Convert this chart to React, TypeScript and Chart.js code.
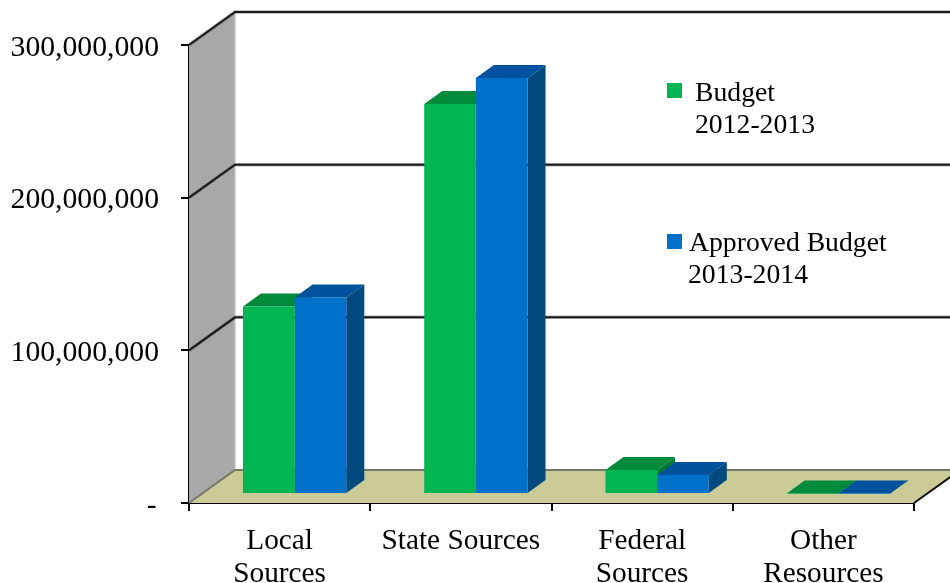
import React, { useEffect, useRef } from "react";
import { Chart, registerables } from "chart.js";

Chart.register(...registerables);

const categories = [["Local", "Sources"], ["State Sources"], ["Federal", "Sources"], ["Other", "Resources"]];
const budget = [122800000, 255400000, 15800000, 400000];
const approved = [128700000, 272500000, 12500000, 400000];
const legendBudget = ["Budget", "2012-2013"];
const legendApproved = ["Approved Budget", "2013-2014"];

const SERIF = "'Liberation Serif', serif";
const GREEN = "#00b552";
const BLUE = "#0070c8";
const faces = [
  { top: "#008a3c", side: "#007a35" },
  { top: "#00529c", side: "#004a80" },
];
const WALL = { dx: 46, dy: -33 };
const BAR = { ox: 15, oy: -9, dx: 18, dy: -13 };
const Y_LABEL_SHIFT = 3;

const poly = (ctx: CanvasRenderingContext2D, pts: number[][], fill: string) => {
  ctx.beginPath();
  pts.forEach(([x, y], i) => (i ? ctx.lineTo(x, y) : ctx.moveTo(x, y)));
  ctx.closePath();
  ctx.fillStyle = fill;
  ctx.fill();
};

const seg = (ctx: CanvasRenderingContext2D, pts: number[][], color: string, w: number) => {
  ctx.beginPath();
  pts.forEach(([x, y], i) => (i ? ctx.lineTo(x, y) : ctx.moveTo(x, y)));
  ctx.strokeStyle = color;
  ctx.lineWidth = w;
  ctx.stroke();
};

const scene3d = {
  id: "scene3d",
  beforeDraw(chart: any) {
    const y = chart.scales.y;
    if (!y.__shifted) {
      const orig = y.drawLabels.bind(y);
      y.drawLabels = (area: any) => {
        chart.ctx.save();
        chart.ctx.translate(0, Y_LABEL_SHIFT);
        orig(area);
        chart.ctx.restore();
      };
      y.__shifted = true;
    }
  },
  beforeDatasetsDraw(chart: any) {
    const ctx = chart.ctx;
    const { left, right, top, bottom } = chart.chartArea;
    const y = chart.scales.y;
    const { dx, dy } = WALL;
    ctx.save();
    poly(ctx, [[left, top], [left + dx, top + dy], [left + dx, bottom + dy], [left, bottom]], "#a8a8a8");
    poly(ctx, [[left, bottom], [left + dx, bottom + dy], [right + dx, bottom + dy], [right, bottom]], "#cbcb98");
    seg(ctx, [[left + dx, top + dy], [left + dx, bottom + dy]], "#c4c4c4", 1.5);
    seg(ctx, [[left, bottom], [left + dx, bottom + dy], [right + dx, bottom + dy]], "#77776a", 2);
    seg(ctx, [[right, bottom], [right + dx, bottom + dy]], "#111111", 2);
    y.ticks.forEach((t: any) => {
      if (!t.value) return;
      const py = y.getPixelForValue(t.value);
      const pts = [[left, py], [left + dx, py + dy], [chart.width, py + dy]];
      seg(ctx, pts, "rgba(90,90,90,0.45)", 3.5);
      seg(ctx, pts, "#1a1a1a", 2);
    });
    // bar depth faces, then shift so the library's bars sit on the floor
    ctx.save();
    ctx.translate(BAR.ox, BAR.oy);
    [0, 1].forEach((d) => {
      chart.getDatasetMeta(d).data.forEach((el: any) => {
        const l = el.x - el.width / 2;
        const r = el.x + el.width / 2;
        poly(ctx, [[l, el.y], [l + BAR.dx, el.y + BAR.dy], [r + BAR.dx, el.y + BAR.dy], [r, el.y]], faces[d].top);
        poly(ctx, [[r, el.y], [r + BAR.dx, el.y + BAR.dy], [r + BAR.dx, el.base + BAR.dy], [r, el.base]], faces[d].side);
      });
    });
    ctx.restore();
    ctx.restore();
    ctx.save();
    ctx.translate(BAR.ox, BAR.oy);
  },
  afterDatasetsDraw(chart: any) {
    const ctx = chart.ctx;
    ctx.restore();
    ctx.save();
    ctx.font = `27.7px ${SERIF}`;
    ctx.textAlign = "left";
    ctx.textBaseline = "alphabetic";
    ctx.fillStyle = GREEN;
    ctx.fillRect(667, 83, 15, 15);
    ctx.fillStyle = BLUE;
    ctx.fillRect(667, 234, 15, 15);
    ctx.fillStyle = "#000";
    ctx.fillText(legendBudget[0], 695, 101);
    ctx.fillText(legendBudget[1], 695, 133);
    ctx.fillText(legendApproved[0], 689, 251);
    ctx.fillText(legendApproved[1], 688, 283);
    ctx.restore();
  },
};

export default function App() {
  const ref = useRef<HTMLCanvasElement>(null);
  useEffect(() => {
    const chart = new Chart(ref.current!, {
      type: "bar",
      data: {
        labels: categories as any,
        datasets: [
          { label: "Budget 2012-2013", data: budget, backgroundColor: GREEN, clip: false as any },
          { label: "Approved Budget 2013-2014", data: approved, backgroundColor: BLUE, clip: false as any },
        ],
      },
      options: {
        animation: false,
        responsive: false,
        layout: { padding: { top: 45, right: 36, left: 0, bottom: 0 } },
        plugins: { legend: { display: false }, tooltip: { enabled: false } },
        datasets: { bar: { categoryPercentage: 0.57, barPercentage: 1 } },
        scales: {
          x: {
            afterFit: (s: any) => { s.height = 80; },
            grid: { drawOnChartArea: false, drawTicks: true, tickLength: 8, color: "#000", lineWidth: 2 },
            border: { display: true, color: "#000", width: 2 },
            ticks: {
              autoSkip: false, maxRotation: 0, minRotation: 0, padding: 13, color: "#000",
              font: { family: SERIF, size: 29.3, lineHeight: 1.15 },
            },
          },
          y: {
            min: 0,
            max: 300000000,
            afterFit: (s: any) => { s.width = 189; },
            grid: { drawOnChartArea: false, drawTicks: true, tickLength: 8, color: "#000", lineWidth: 2 },
            border: { display: true, color: "#000", width: 2 },
            ticks: {
              stepSize: 100000000, padding: 22, color: "#000",
              font: { family: SERIF, size: 29.7 },
              callback: (v: any) => (v === 0 ? "-\u200a" : Number(v).toLocaleString("en-US")),
            },
          },
        },
      } as any,
      plugins: [scene3d],
    });
    return () => chart.destroy();
  }, []);
  return (
    <div style={{ position: "absolute", left: 0, top: 0, width: 950, height: 583, background: "#fff", overflow: "hidden" }}>
      <canvas ref={ref} width={950} height={583} style={{ display: "block" }} />
    </div>
  );
}
